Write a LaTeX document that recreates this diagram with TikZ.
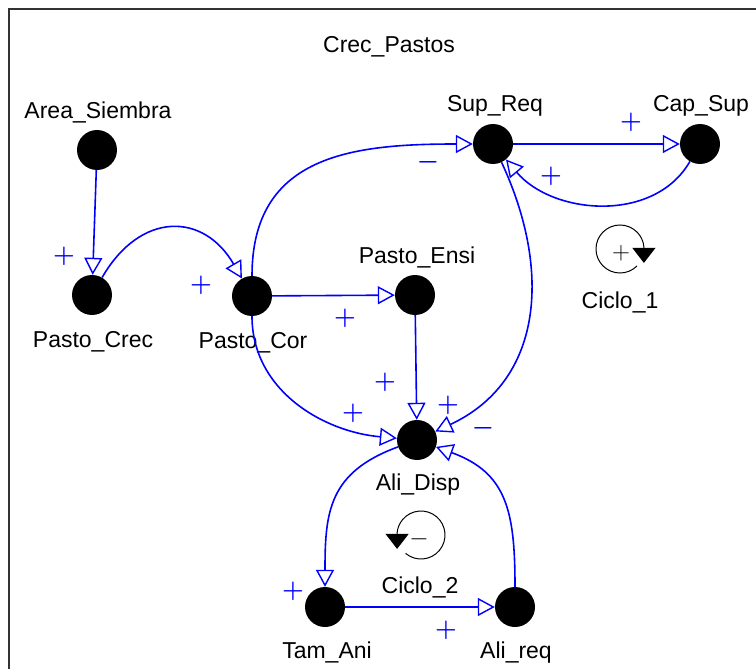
\documentclass[tikz,border=0pt]{standalone}
\usepackage{fontspec}
\setmainfont{Liberation Sans}
\usetikzlibrary{arrows.meta}
\definecolor{linkblue}{HTML}{0000FF}
\definecolor{framegray}{HTML}{333333}

\begin{document}
\begin{tikzpicture}[x=1pt,y=1pt,font=\fontsize{23}{27}\selectfont,
 var/.style={circle,fill=black,inner sep=0pt,minimum size=40pt},
 vlabel/.style={anchor=base,inner sep=0pt},
 link/.style={-{Triangle[open,length=17pt,width=18pt,line width=1.4pt]},linkblue,line width=1.6pt},
 sgn/.style={text=linkblue,inner sep=0pt,font=\boldmath\fontsize{33}{33}\selectfont},
 cyc/.style={inner sep=0pt,font=\fontsize{28}{28}\selectfont},
 loopsym/.style={line width=1pt,-{Triangle[length=15pt,width=23pt]}}]
\useasboundingbox (0,0) rectangle (756,-669);
\draw[line width=2.2pt,framegray] (9,-9) rectangle (800,-720);
\node[vlabel] (title) at (389,-53) {Crec\_Pastos};
\node[var] (area) at (97,-150) {};
\node[var] (crec) at (92,-295) {};
\node[var] (cor) at (252,-296) {};
\node[var] (ensi) at (415,-295) {};
\node[var] (sup) at (493,-144) {};
\node[var] (cap) at (700,-144) {};
\node[var] (disp) at (417,-440) {};
\node[var] (tam) at (325,-607) {};
\node[var] (req) at (515,-607) {};
\node[vlabel] (areaL) at (98,-118) {Area\_Siembra};
\node[vlabel] (crecL) at (93,-347) {Pasto\_Crec};
\node[vlabel] (corL) at (253,-348) {Pasto\_Cor};
\node[vlabel] (ensiL) at (417,-263) {Pasto\_Ensi};
\node[vlabel] (supL) at (495,-112) {Sup\_Req};
\node[vlabel] (capL) at (701,-112) {Cap\_Sup};
\node[vlabel] (dispL) at (418,-490) {Ali\_Disp};
\node[vlabel] (tamL) at (327,-658) {Tam\_Ani};
\node[vlabel] (reqL) at (516,-658) {Ali\_req};
\draw[link] (area) -- (crec);
\draw[link] (crec) to[out=60,in=120,looseness=1.4] (cor);
\draw[link] (cor) -- (ensi);
\draw[link] (ensi) -- (disp);
\draw[link] (cor) to[out=-90,in=175] (disp);
\draw[link] (cor) to[out=90,in=180,looseness=1.2] (sup);
\draw[link] (sup) -- (cap);
\draw[link] (cap) to[out=-120,in=-50] (sup);
\draw[link] (sup) to[out=-65,in=25,looseness=1.1] (disp);
\draw[link] (disp) to[out=-160,in=90,looseness=1.2] (tam);
\draw[link] (tam) -- (req);
\draw[link] (req) to[out=90,in=-20,looseness=1.2] (disp);
\node[sgn] (s1) at (64,-256) {$+$};
\node[sgn] (s2) at (201,-285) {$+$};
\node[sgn] (s3) at (345,-318) {$+$};
\node[sgn] (s4) at (385,-382) {$+$};
\node[sgn] (s5) at (353,-413) {$+$};
\node[sgn] (s6) at (448,-405) {$+$};
\node[sgn] (s7) at (483,-428) {$-$};
\node[sgn] (s8) at (428,-162) {$-$};
\node[sgn] (s9) at (631,-122) {$+$};
\node[sgn] (s10) at (551,-176) {$+$};
\node[sgn] (s11) at (293,-591) {$+$};
\node[sgn] (s12) at (446,-630) {$+$};
\coordinate (c1) at (620,-249);
\draw[loopsym] ([shift={(-45:24)}]c1) arc[start angle=-45,end angle=-355,radius=24] -- ++(0,-16);
\node[cyc] (c1sign) at (621,-253) {$+$};
\node[vlabel] (c1L) at (620,-308) {Ciclo\_1};
\coordinate (c2) at (421,-535);
\draw[loopsym] ([shift={(-130:24)}]c2) arc[start angle=-130,end angle=175,radius=24] -- ++(0,-16);
\node[cyc] (c2sign) at (419,-539) {$-$};
\node[vlabel] (c2L) at (420,-593) {Ciclo\_2};
\end{tikzpicture}
\end{document}
